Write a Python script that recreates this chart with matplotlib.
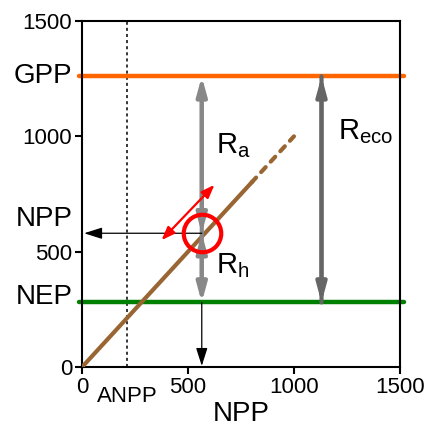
import matplotlib.pyplot as plt

plt.rcParams['font.family'] = ['Liberation Sans', 'DejaVu Sans']

# flux levels (g C m-2 yr-1)
gpp = 1260
npp = 580
nep = 280
anpp = 210
npp_x = 565
reco_x = 1130

# the 1:1 line
solid_x = [0, 800]
dashed_x = [800, 1000]

# red tangent arrow end points
tan_start = (375, 550)
tan_end = (625, 790)

ticks = [0, 500, 1000, 1500]

fig = plt.figure(figsize=(4.25, 4.37), dpi=100)
ax = fig.add_axes([0.193, 0.160, 0.748, 0.792])
ax.set_xlim(0, 1500)
ax.set_ylim(0, 1500)

ax.plot([-15, 1520], [gpp, gpp], color='#ff6600', lw=3.2, clip_on=False, solid_capstyle='round', zorder=2)
ax.plot([-15, 1520], [nep, nep], color='#008000', lw=3.2, clip_on=False, solid_capstyle='round', zorder=2)

ax.plot(solid_x, solid_x, color='#996633', lw=3, zorder=3)
ax.plot(dashed_x, dashed_x, color='#996633', lw=3, ls=(0, (1.6, 1.8)), dash_capstyle='round', zorder=3)

ax.axvline(anpp, color='black', lw=1.1, ls=(0, (2, 2)), zorder=1)

# respiration arrows
gray = dict(arrowstyle='-|>,head_width=0.3,head_length=1.1', lw=3, shrinkA=0, shrinkB=0)
ax.annotate('', xy=(npp_x, gpp), xytext=(npp_x, npp), arrowprops=dict(gray, color='#888888'), zorder=4)
ax.annotate('', xy=(npp_x, npp), xytext=(npp_x, gpp - 100), arrowprops=dict(gray, color='#888888'), zorder=4)
ax.annotate('', xy=(npp_x, nep), xytext=(npp_x, npp), arrowprops=dict(gray, color='#888888'), zorder=4)
ax.annotate('', xy=(npp_x, npp), xytext=(npp_x, nep + 100), arrowprops=dict(gray, color='#888888'), zorder=4)
ax.annotate('', xy=(reco_x, gpp), xytext=(reco_x, nep), arrowprops=dict(gray, color='#666666'), zorder=4)
ax.annotate('', xy=(reco_x, nep), xytext=(reco_x, gpp), arrowprops=dict(gray, color='#666666'), zorder=4)

# thin black projections
thin = dict(arrowstyle='-|>,head_width=0.35,head_length=1.1', lw=0.9, color='black', shrinkA=0, shrinkB=0)
ax.annotate('', xy=(10, npp), xytext=(npp_x, npp), arrowprops=thin, zorder=5)
ax.annotate('', xy=(npp_x, 5), xytext=(npp_x, nep), arrowprops=thin, zorder=5)

# tangent and circle
red = dict(arrowstyle='<|-|>,head_width=0.3,head_length=0.8', lw=1.6, color='red', shrinkA=0, shrinkB=0)
ax.annotate('', xy=tan_end, xytext=tan_start, arrowprops=red, zorder=6)
ax.plot([npp_x], [npp], marker='o', ms=27, mfc='none', mec='red', mew=3, zorder=6)

ax.set_xticks(ticks)
ax.set_yticks(ticks)
ax.tick_params(labelsize=16, length=5, width=1.5, pad=2)
for s in ax.spines.values():
    s.set_linewidth(1.5)

ax.text(-0.03, gpp, 'GPP', transform=ax.get_yaxis_transform(), ha='right', va='center', fontsize=20)
ax.text(-0.03, npp + 60, 'NPP', transform=ax.get_yaxis_transform(), ha='right', va='center', fontsize=20)
ax.text(-0.03, nep + 25, 'NEP', transform=ax.get_yaxis_transform(), ha='right', va='center', fontsize=20)
ax.text(anpp + 5, -0.055, 'ANPP', transform=ax.get_xaxis_transform(), ha='center', va='top', fontsize=16)

ax.text(630, 960, r'R$_\mathregular{a}$', fontsize=21, ha='left', va='center')
ax.text(630, 440, r'R$_\mathregular{h}$', fontsize=21, ha='left', va='center')
ax.text(1210, 1020, r'R$_\mathregular{eco}$', fontsize=21, ha='left', va='center')

ax.set_xlabel('NPP', fontsize=20, labelpad=2)

fig.savefig('out.png', dpi=100)
